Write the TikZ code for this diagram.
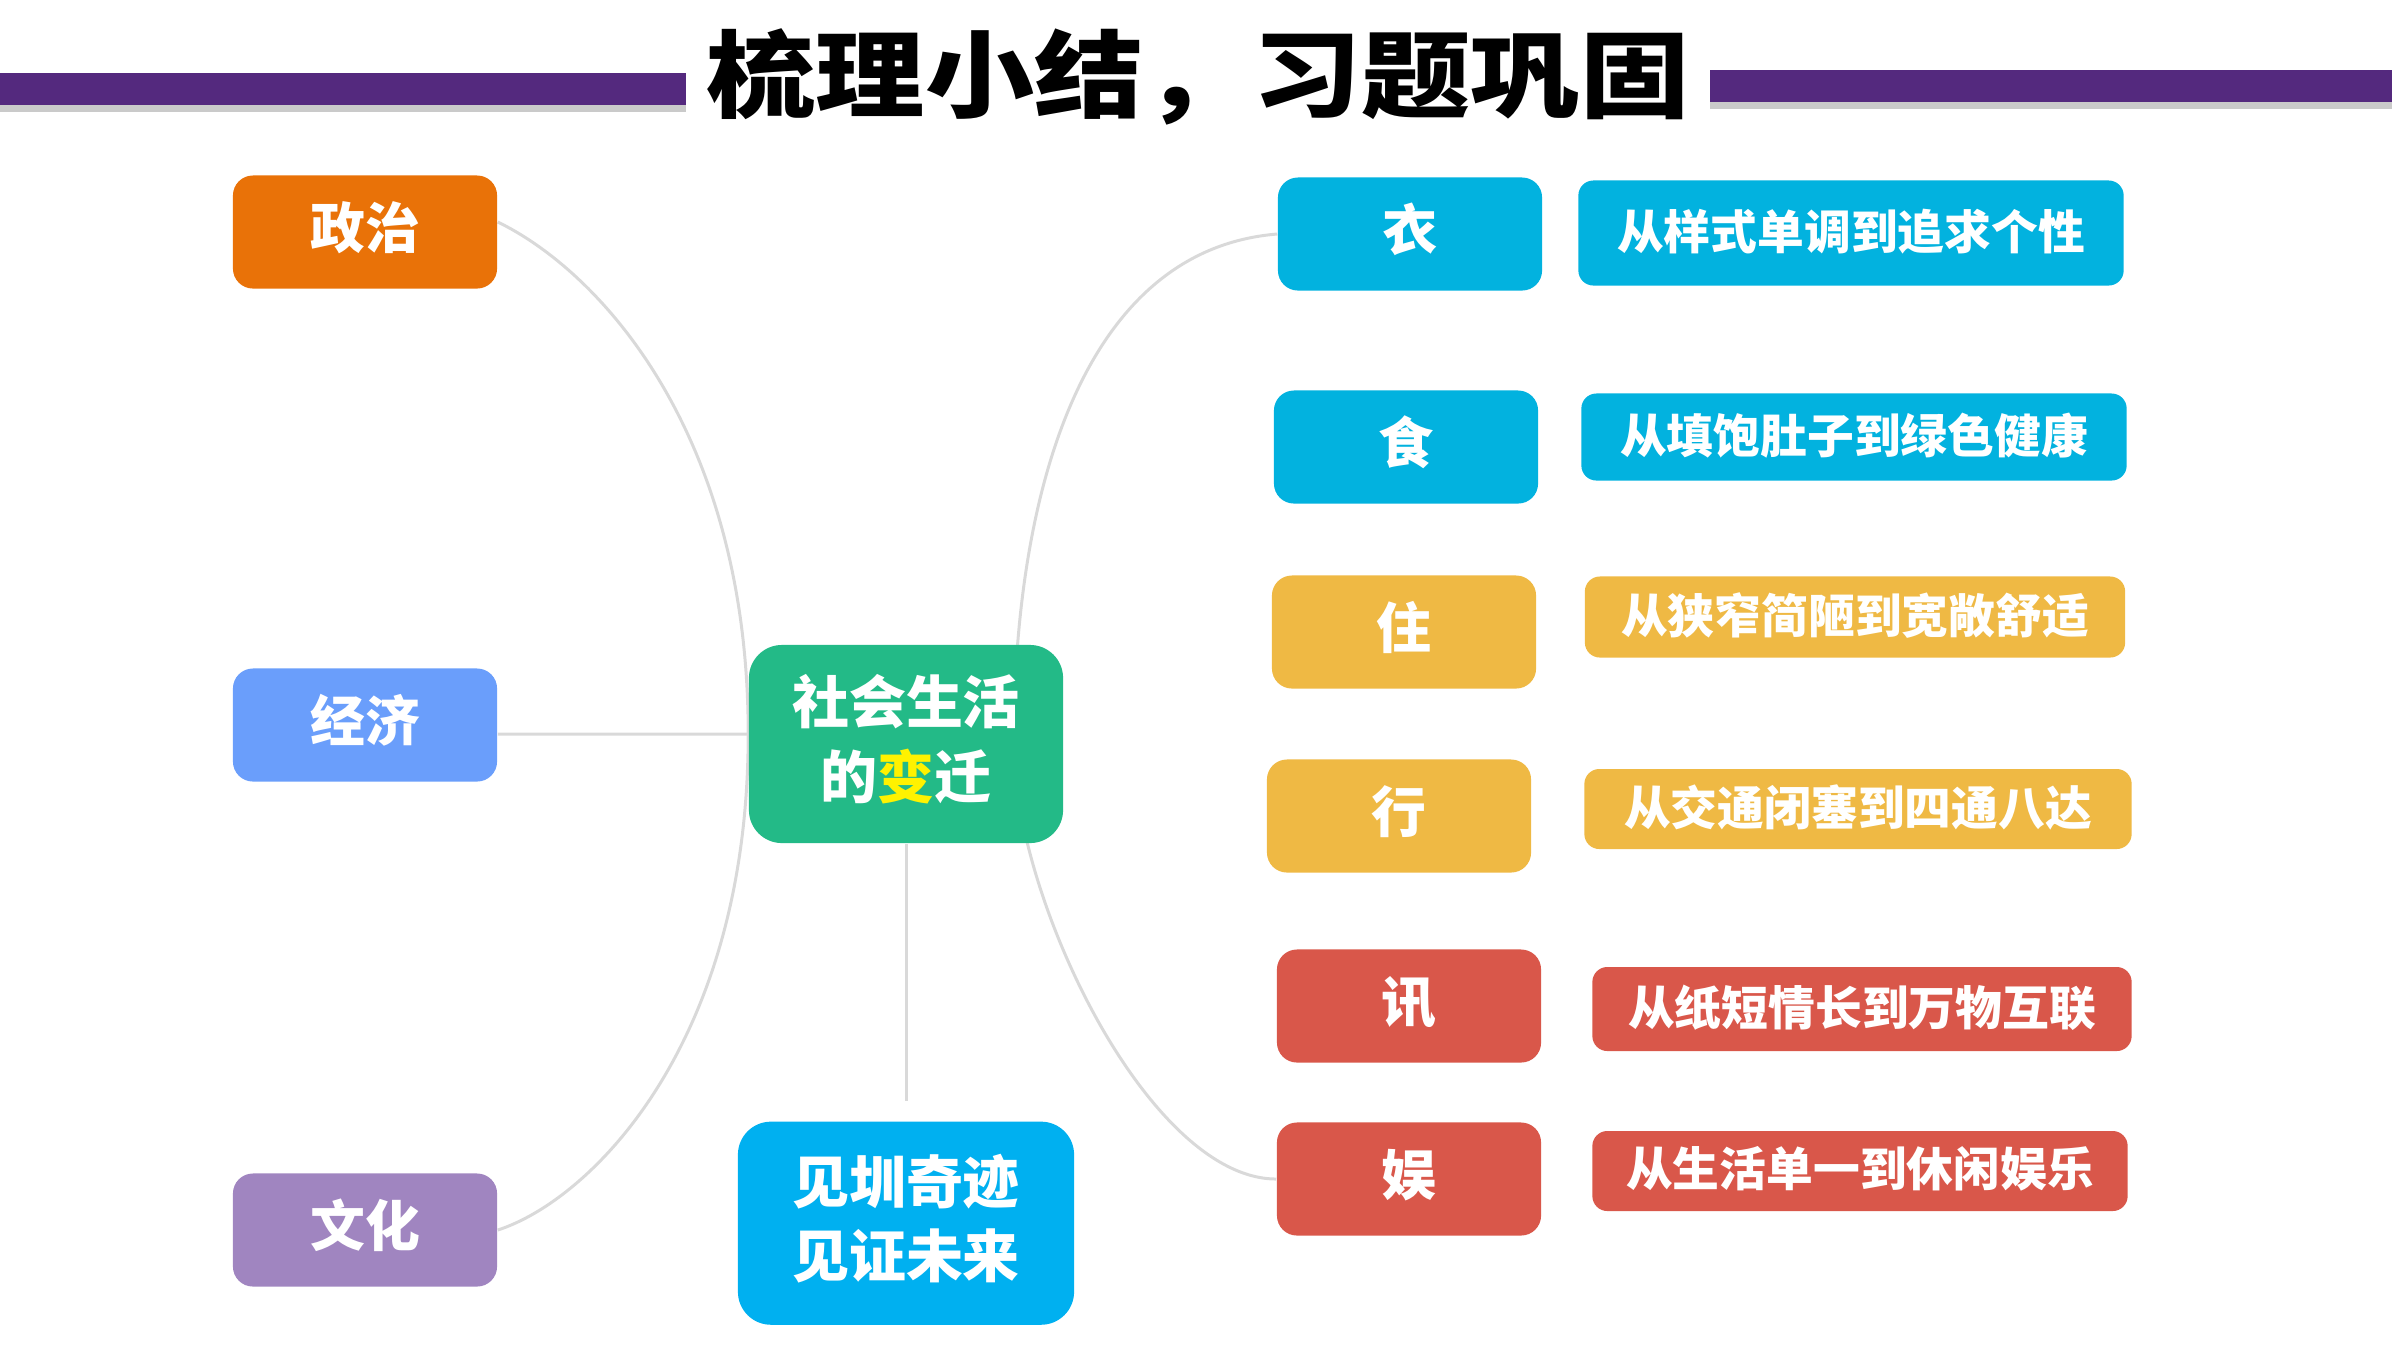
\documentclass[tikz,border=0pt]{standalone}
\usepackage{fontspec}
\newfontfamily\cjk{Noto Sans CJK SC}
\usetikzlibrary{positioning,backgrounds,shadows}
\definecolor{barpurple}{HTML}{54297E}
\definecolor{zzorange}{HTML}{E97208}
\definecolor{jjblue}{HTML}{6A9EFB}
\definecolor{whpurple}{HTML}{A085C0}
\definecolor{socgreen}{HTML}{23BA87}
\definecolor{jzblue}{HTML}{00B0F0}
\definecolor{keyblue}{HTML}{02B2DF}
\definecolor{keyyellow}{HTML}{EFB944}
\definecolor{keyred}{HTML}{D9574A}
\definecolor{linkgray}{HTML}{D9D9D9}

\begin{document}
\begin{tikzpicture}[x=0.01cm,y=-0.01cm,
  every node/.style={text=white,inner sep=0pt,align=center},
  side/.style={rounded corners=0.2cm,minimum width=2.64cm,minimum height=1.13cm,text depth=0.4em,font=\cjk\bfseries\fontsize{15.6}{18}\selectfont},
  hubbox/.style={rounded corners=0.33cm,text depth=0.42em,font=\cjk\bfseries\fontsize{16.2}{21.3}\selectfont},
  desc/.style={rounded corners=0.15cm,minimum width=5.45cm,text depth=0.24em,font=\cjk\bfseries\fontsize{13.3}{16}\selectfont},
  link/.style={draw=linkgray,line width=0.85pt},
  bar/.style={fill=barpurple,drop shadow={shadow xshift=0pt,shadow yshift=-0.07cm,opacity=0.35,fill=black!60}}]
\useasboundingbox (0,0) rectangle (2400,1350);

\fill[bar] (0,73) rectangle (686,105);
\fill[bar] (1710,70) rectangle (2392,102);
\node[text=black,font=\cjk\bfseries\fontsize{27}{30}\selectfont] (title) at (1198,77) {\scalebox{1.15}[1]{梳理小结，习题巩固}};

\node[side,fill=zzorange] (zz) at (365,232) {政治};
\node[side,fill=jjblue] (jj) at (365,725) {经济};
\node[side,fill=whpurple] (wh) at (365,1230) {文化};

\node[hubbox,fill=socgreen,minimum width=3.14cm,minimum height=1.98cm] (soc) at (906,744) {社会生活\\的\textcolor{yellow}{变}迁};
\node[hubbox,fill=jzblue,minimum width=3.36cm,minimum height=2.03cm,below=2.77cm of soc] (jz) {见圳奇迹\\见证未来};

\node[side,fill=keyblue] (yi) at (1410,234) {衣};
\node[side,fill=keyblue] (shi) at (1406,447) {食};
\node[side,fill=keyyellow] (zhu) at (1404,632) {住};
\node[side,fill=keyyellow] (xing) at (1399,816) {行};
\node[side,fill=keyred] (xun) at (1409,1006) {讯};
\node[side,fill=keyred] (yu) at (1409,1179) {娱};

\node[desc,fill=keyblue,minimum height=1.05cm] (yid) at (1851,233) {从样式单调到追求个性};
\node[desc,fill=keyblue,minimum height=0.87cm] (shid) at (1854,437) {从填饱肚子到绿色健康};
\node[desc,fill=keyyellow,minimum height=0.81cm,minimum width=5.4cm] (zhud) at (1855,617) {从狭窄简陋到宽敞舒适};
\node[desc,fill=keyyellow,minimum height=0.8cm,minimum width=5.47cm] (xingd) at (1858,809) {从交通闭塞到四通八达};
\node[desc,fill=keyred,minimum height=0.84cm,minimum width=5.39cm] (xund) at (1862,1009) {从纸短情长到万物互联};
\node[desc,fill=keyred,minimum height=0.8cm,minimum width=5.35cm] (yud) at (1860,1171) {从生活单一到休闲娱乐};

\begin{scope}[on background layer]
\coordinate (hubl) at ([yshift=0.1cm]soc.west);
\coordinate (hubr) at ([xshift=-0.5cm]soc.east);
\coordinate (jztop) at ([yshift=0.2cm]jz.north);
\draw[link] ([yshift=0.1cm]zz.east) .. controls +(103,50) and +(0,-300) .. (hubl);
\draw[link] ([yshift=-0.09cm]jj.east) -- (hubl);
\draw[link] (wh.east) .. controls +(93,-30) and +(0,310) .. (hubl);
\draw[link] (soc.south) -- (soc.south |- jztop);
\draw[link] (hubr) .. controls +(0,-244) and +(-198,16) .. (yi.west);
\draw[link] (hubr) .. controls +(0,156) and +(-127,0) .. (yu.west);
\end{scope}
\end{tikzpicture}
\end{document}
